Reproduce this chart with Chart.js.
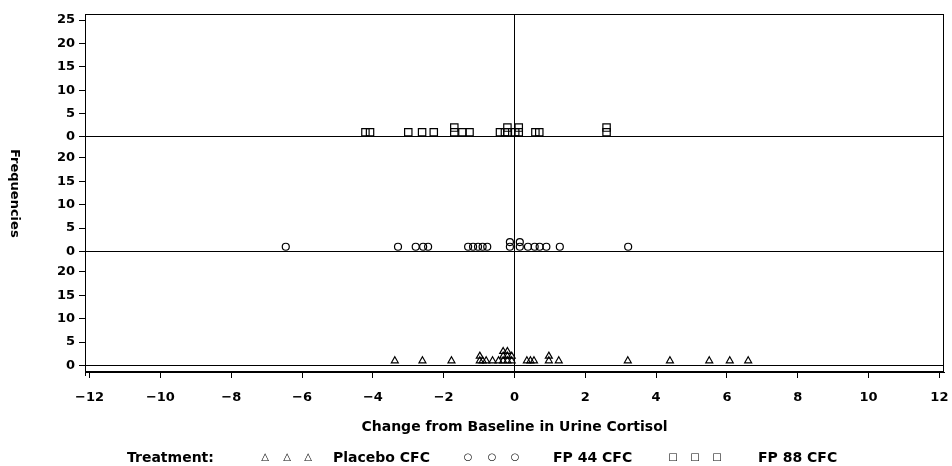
<!DOCTYPE html>
<html>
<head>
<meta charset="utf-8">
<script src="https://cdn.jsdelivr.net/npm/chart.js@4.4.0/dist/chart.umd.min.js"></script>
<style>
	body{margin:0;background:#fff;}
	#wrap{position:relative;width:952px;height:466px;font-family:"DejaVu Sans",sans-serif;font-weight:bold;font-size:14px;color:#000;}
	#ytitle{position:absolute;left:8px;top:14px;height:358px;writing-mode:vertical-rl;text-align:center;font-size:13px;}
	.leg{position:absolute;top:449px;line-height:16px;white-space:nowrap;}
	.sym{font-weight:normal;font-size:10px;width:12px;margin-left:-6px;text-align:center;}
</style>
</head>
<body>
<div id="wrap">
	<canvas id="grafica" width="952" height="466"></canvas>
	<div id="ytitle">Frequencies</div>
	<div class="leg" style="left:127px">Treatment:</div>
	<div class="leg sym" style="left:265px">△</div>
	<div class="leg sym" style="left:287px">△</div>
	<div class="leg sym" style="left:308px">△</div>
	<div class="leg" style="left:333px">Placebo CFC</div>
	<div class="leg sym" style="left:468px">○</div>
	<div class="leg sym" style="left:492px">○</div>
	<div class="leg sym" style="left:515px">○</div>
	<div class="leg" style="left:553px">FP 44 CFC</div>
	<div class="leg sym" style="left:673px">□</div>
	<div class="leg sym" style="left:695px">□</div>
	<div class="leg sym" style="left:717px">□</div>
	<div class="leg" style="left:758px">FP 88 CFC</div>
</div>
<script>
// valores (cambio vs frecuencia)
var placeboX=[-3.38,-2.60,-1.78,-0.98,-0.98,-0.90,-0.80,-0.62,-0.45,-0.32,-0.32,-0.32,-0.20,-0.20,-0.20,-0.08,-0.08,0.35,0.45,0.55,0.97,0.97,1.25,3.20,4.39,5.50,6.08,6.60];
var placeboY=[1,1,1,1,2,1,1,1,1,1,2,3,1,2,3,1,2,1,1,1,1,2,1,1,1,1,1,1];
var fp44X=[-6.46,-3.29,-2.79,-2.58,-2.44,-1.31,-1.17,-1.03,-0.90,-0.77,-0.13,-0.13,0.15,0.15,0.38,0.57,0.71,0.90,1.28,3.21];
var fp44Y=[1,1,1,1,1,1,1,1,1,1,1,2,1,2,1,1,1,1,1,1];
var fp88X=[-4.21,-4.08,-3.00,-2.61,-2.28,-1.70,-1.70,-1.47,-1.27,-0.41,-0.27,-0.20,-0.20,0.02,0.12,0.12,0.59,0.70,2.60,2.60];
var fp88Y=[1,1,1,1,1,1,2,1,1,1,1,1,2,1,1,2,1,1,1,2];
var xTicks=[-12,-10,-8,-6,-4,-2,0,2,4,6,8,10,12];
var placeboTicks=[0,5,10,15,20];
var fp44Ticks=[0,5,10,15,20];
var fp88Ticks=[0,5,10,15,20,25];

// desplazamiento vertical de cada panel
var OFF_PLACEBO=0, OFF_44=24.4, OFF_88=48.9;

function puntos(xs,ys,off){
	var arr=new Array();
	for(var i=0;i<xs.length;i++){
		arr.push({x:xs[i],y:ys[i]+off});
	}
	return arr;
}

var yTickVals=new Array();
var yTickLabels=new Array();
var zeros=[OFF_PLACEBO,OFF_44,OFF_88];
[[placeboTicks,OFF_PLACEBO],[fp44Ticks,OFF_44],[fp88Ticks,OFF_88]].forEach(function(p){
	for(var i=0;i<p[0].length;i++){
		yTickVals.push(p[0][i]+p[1]);
		yTickLabels.push(String(p[0][i]));
	}
});

var FUENTE={family:'"DejaVu Sans", sans-serif',size:13,weight:'bold'};
var FUENTE_TIT={family:'"DejaVu Sans", sans-serif',size:14,weight:'bold'};

var marco={
	id:'marco',
	afterDraw:function(chart){
		var a=chart.chartArea, ctx=chart.ctx;
		ctx.save();
		ctx.strokeStyle='#000';
		ctx.lineWidth=1;
		ctx.strokeRect(a.left+0.5,a.top+0.5,a.right-a.left-1,a.bottom-a.top-1);
		ctx.beginPath();
		ctx.moveTo(a.left+0.5,a.bottom);
		ctx.lineTo(a.left+0.5,a.bottom+4);
		ctx.stroke();
		ctx.restore();
	}
};

var config={
	type:'scatter',
	data:{
		datasets:[
			{label:'Placebo CFC',data:puntos(placeboX,placeboY,OFF_PLACEBO),pointStyle:'triangle',pointRadius:4,borderColor:'#000',backgroundColor:'rgba(0,0,0,0)',borderWidth:1.2},
			{label:'FP 44 CFC',data:puntos(fp44X,fp44Y,OFF_44),pointStyle:'circle',pointRadius:3.5,borderColor:'#000',backgroundColor:'rgba(0,0,0,0)',borderWidth:1.2},
			{label:'FP 88 CFC',data:puntos(fp88X,fp88Y,OFF_88),pointStyle:'rect',pointRadius:5.2,borderColor:'#000',backgroundColor:'rgba(0,0,0,0)',borderWidth:1.2}
		]
	},
	options:{
		responsive:false,
		animation:false,
		devicePixelRatio:1,
		layout:{padding:{top:14,right:8,left:0,bottom:0}},
		plugins:{legend:{display:false},tooltip:{enabled:false}},
		scales:{
			x:{
				type:'linear',min:-12.13,max:12.13,
				afterBuildTicks:function(s){s.ticks=xTicks.map(function(v){return {value:v};});},
				afterFit:function(s){s.height=94;s.paddingLeft=0;s.paddingRight=0;},
				ticks:{color:'#000',font:FUENTE,padding:12,maxRotation:0,autoSkip:false,
					callback:function(v){return v<0?'\u2212'+Math.abs(v):String(v);}},
				grid:{color:function(c){return c.tick&&c.tick.value===0?'#000':'rgba(0,0,0,0)';},tickColor:'#000',tickLength:6,lineWidth:1},
				border:{display:true,color:'#000',width:1},
				title:{display:true,text:'Change from Baseline in Urine Cortisol',color:'#000',font:FUENTE_TIT,padding:{top:0,bottom:30}}
			},
			y:{
				type:'linear',min:-1.4,max:75.2,
				afterBuildTicks:function(s){s.ticks=yTickVals.map(function(v){return {value:v};});},
				afterFit:function(s){s.width=85;s.paddingTop=0;s.paddingBottom=0;},
				ticks:{color:'#000',font:FUENTE,padding:4,autoSkip:false,
					callback:function(v,i){return yTickLabels[i];}},
				grid:{color:function(c){return c.tick&&zeros.indexOf(c.tick.value)>=0?'#000':'rgba(0,0,0,0)';},tickColor:'#000',tickLength:6,lineWidth:1},
				border:{display:true,color:'#000',width:1}
			}
		}
	},
	plugins:[marco]
};

var canvas=document.getElementById('grafica').getContext('2d');
new Chart(canvas,config);
</script>
</body>
</html>
